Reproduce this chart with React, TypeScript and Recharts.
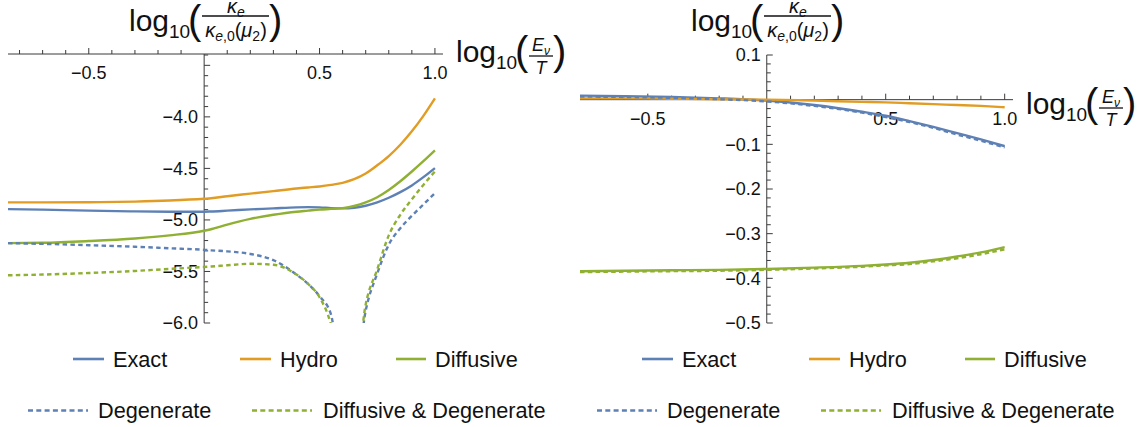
import React from 'react';
import { LineChart, Line, XAxis, YAxis, ReferenceLine } from 'recharts';

const BLUE = '#5E81B5';
const ORANGE = '#E19C24';
const GREEN = '#8FB032';
const AXIS = '#3a3a3a';
const INK = '#111';
const FONT = '"Liberation Sans", Arial, sans-serif';
const DOTS = '4.5 3.3';

// left panel: log10(kappa_e / kappa_e,0(mu_2)) over the wide range
const leftX = [-0.85, -0.7, -0.5, -0.3, -0.15, 0, 0.03, 0.1, 0.2, 0.3, 0.4, 0.45, 0.5, 0.55, 0.6, 0.65, 0.7, 0.75, 0.8, 0.85, 0.9, 0.95, 1.0];
const leftExact = [-4.895, -4.9, -4.91, -4.917, -4.92, -4.92, -4.918, -4.91, -4.898, -4.888, -4.878, -4.876, -4.878, -4.885, -4.888, -4.882, -4.862, -4.83, -4.785, -4.73, -4.665, -4.585, -4.497];
const leftHydro = [-4.83, -4.83, -4.828, -4.822, -4.812, -4.795, -4.79, -4.77, -4.745, -4.72, -4.695, -4.685, -4.675, -4.66, -4.64, -4.605, -4.55, -4.47, -4.38, -4.27, -4.14, -3.99, -3.82];
const leftDiffusive = [-5.225, -5.222, -5.205, -5.18, -5.15, -5.105, -5.09, -5.045, -4.99, -4.95, -4.92, -4.91, -4.9, -4.893, -4.885, -4.865, -4.83, -4.78, -4.71, -4.625, -4.53, -4.43, -4.325];
const leftDegenerate = [-5.225, -5.232, -5.245, -5.26, -5.275, -5.29, -5.295, -5.305, -5.33, -5.39, -5.53, -5.62, -5.74, -5.92, -6.6, -6.6, -5.88, -5.52, -5.24, -5.08, -4.96, -4.85, -4.74];
const leftDiffDeg = [-5.537, -5.53, -5.515, -5.495, -5.475, -5.456, -5.452, -5.44, -5.425, -5.435, -5.53, -5.62, -5.75, -6.02, -6.6, -6.6, -5.82, -5.48, -5.15, -4.95, -4.8, -4.66, -4.53];

// right panel: same ratio, narrow range
const rightX = [-0.785, -0.6, -0.4, -0.2, 0, 0.2, 0.4, 0.5, 0.6, 0.7, 0.8, 0.9, 1.0];
const rightExact = [0.009, 0.008, 0.006, 0.003, -0.002, -0.012, -0.027, -0.036, -0.048, -0.061, -0.075, -0.089, -0.104];
const rightHydro = [0.003, 0.003, 0.002, 0.001, 0, -0.002, -0.005, -0.006, -0.008, -0.01, -0.012, -0.014, -0.017];
const rightDiffusive = [-0.384, -0.383, -0.382, -0.381, -0.379, -0.376, -0.372, -0.369, -0.365, -0.359, -0.351, -0.342, -0.33];
const rightDegenerate = [0.007, 0.006, 0.004, 0.001, -0.004, -0.014, -0.029, -0.039, -0.05, -0.063, -0.078, -0.092, -0.107];
const rightDiffDeg = [-0.386, -0.385, -0.384, -0.383, -0.381, -0.378, -0.374, -0.371, -0.368, -0.362, -0.355, -0.346, -0.335];

const leftXLabels = [{ v: -0.5, t: '−0.5' }, { v: 0.5, t: '0.5' }, { v: 1.0, t: '1.0' }];
const leftYLabels = [{ v: -6.0, t: '−6.0' }, { v: -5.5, t: '−5.5' }, { v: -5.0, t: '−5.0' }, { v: -4.5, t: '−4.5' }, { v: -4.0, t: '−4.0' }];
const rightXLabels = [{ v: -0.5, t: '−0.5' }, { v: 0.5, t: '0.5' }, { v: 1.0, t: '1.0' }];
const rightYLabels = [{ v: 0.1, t: '0.1' }, { v: -0.1, t: '−0.1' }, { v: -0.2, t: '−0.2' }, { v: -0.3, t: '−0.3' }, { v: -0.4, t: '−0.4' }, { v: -0.5, t: '−0.5' }];

const SERIES = [
  { key: 'exact', name: 'Exact', color: BLUE, dotted: false },
  { key: 'hydro', name: 'Hydro', color: ORANGE, dotted: false },
  { key: 'diffusive', name: 'Diffusive', color: GREEN, dotted: false },
  { key: 'degenerate', name: 'Degenerate', color: BLUE, dotted: true },
  { key: 'diffdeg', name: 'Diffusive & Degenerate', color: GREEN, dotted: true },
];

const range = (a: number, b: number, step: number) => {
  const out: number[] = [];
  const n = Math.round((b - a) / step);
  for (let i = 0; i <= n; i++) out.push(Math.round((a + i * step) * 1000) / 1000);
  return out;
};
const onStep = (v: number, step: number) => Math.abs(v / step - Math.round(v / step)) < 1e-6;

const toRows = (xs: number[], cols: Record<string, number[]>) =>
  xs.map((x, i) => {
    const row: Record<string, number> = { x };
    Object.keys(cols).forEach((k) => (row[k] = cols[k][i]));
    return row;
  });

const TICK_FONT = 18;

const xTickShape = (len: number, label?: string) => (p: any) => (
  <g>
    <line x1={p.x1} y1={p.y1} x2={p.x1} y2={p.y1 - len} stroke={AXIS} strokeWidth={1} />
    {label ? (
      <text x={p.x1} y={p.y1 + 25} textAnchor="middle" fontSize={TICK_FONT} fill={INK} fontFamily={FONT}>
        {label}
      </text>
    ) : null}
  </g>
);

const yTickShape = (len: number, label?: string) => (p: any) => (
  <g>
    <line x1={p.x1} y1={p.y1} x2={p.x1 + len} y2={p.y1} stroke={AXIS} strokeWidth={1} />
    {label ? (
      <text x={p.x1 - 6} y={p.y1 + 6.4} textAnchor="end" fontSize={TICK_FONT} fill={INK} fontFamily={FONT}>
        {label}
      </text>
    ) : null}
  </g>
);

type PanelProps = {
  left: number;
  width: number;
  margin: { top: number; right: number; bottom: number; left: number };
  rows: Record<string, number>[];
  xDomain: [number, number];
  yDomain: [number, number];
  xAxisAt: number;
  xTicks: number[];
  yTicks: number[];
  yMajor: number;
  xLabels: { v: number; t: string }[];
  yLabels: { v: number; t: string }[];
};

function Panel({ left, width, margin, rows, xDomain, yDomain, xAxisAt, xTicks, yTicks, yMajor, xLabels, yLabels }: PanelProps) {
  return (
    <div style={{ position: 'absolute', left, top: 0 }}>
      <LineChart width={width} height={340} data={rows} margin={margin}>
        <XAxis type="number" dataKey="x" domain={xDomain} allowDataOverflow hide />
        <YAxis type="number" domain={yDomain} allowDataOverflow hide />
        <ReferenceLine y={xAxisAt} stroke={AXIS} strokeWidth={1} ifOverflow="visible" />
        <ReferenceLine x={0} stroke={AXIS} strokeWidth={1} ifOverflow="visible" />
        {xTicks
          .filter((t) => t !== 0)
          .map((t) => {
            const lab = xLabels.find((l) => Math.abs(l.v - t) < 1e-6);
            return (
              <ReferenceLine
                key={'xt' + t}
                segment={[{ x: t, y: xAxisAt }, { x: t, y: xAxisAt }]}
                ifOverflow="visible"
                shape={xTickShape(onStep(t, 0.5) ? 6 : 4, lab?.t)}
              />
            );
          })}
        {yTicks.map((t) => {
          const lab = yLabels.find((l) => Math.abs(l.v - t) < 1e-6);
          return (
            <ReferenceLine
              key={'yt' + t}
              segment={[{ x: 0, y: t }, { x: 0, y: t }]}
              ifOverflow="visible"
              shape={yTickShape(onStep(t, yMajor) ? 6 : 4, lab?.t)}
            />
          );
        })}
        {SERIES.map((s) => (
          <Line
            key={s.key}
            dataKey={s.key}
            type="monotone"
            stroke={s.color}
            strokeWidth={2.4}
            strokeDasharray={s.dotted ? DOTS : undefined}
            dot={false}
            activeDot={false}
            isAnimationActive={false}
          />
        ))}
      </LineChart>
    </div>
  );
}

// log10( kappa_e / kappa_e,0(mu_2) )
function KappaTitle({ x, y }: { x: number; y: number }) {
  return (
    <g fontFamily={FONT} fill={INK}>
      <text x={x} y={y} fontSize={30}>
        log<tspan fontSize={19} dy={7}>10</tspan>
      </text>
      <text x={x + 59} y={y + 3} fontSize={40}>(</text>
      <text x={x + 107} y={y - 18} fontSize={20} textAnchor="middle">
        <tspan fontStyle="italic">κ</tspan>
        <tspan fontSize={14} fontStyle="italic" dy={4}>e</tspan>
      </text>
      <line x1={x + 73} x2={x + 140} y1={y - 15} y2={y - 15} stroke={INK} strokeWidth={1.3} />
      <text x={x + 107} y={y + 6} fontSize={20} textAnchor="middle">
        <tspan fontStyle="italic">κ</tspan>
        <tspan fontSize={14} dy={4}>
          <tspan fontStyle="italic">e</tspan>,0
        </tspan>
        <tspan dy={-4}>(</tspan>
        <tspan fontStyle="italic">μ</tspan>
        <tspan fontSize={14} dy={4}>2</tspan>
        <tspan dy={-4}>)</tspan>
      </text>
      <text x={x + 140} y={y + 3} fontSize={40}>)</text>
    </g>
  );
}

// log10( E_nu / T )
function EnergyTitle({ x, y }: { x: number; y: number }) {
  return (
    <g fontFamily={FONT} fill={INK}>
      <text x={x} y={y} fontSize={30}>
        log<tspan fontSize={19} dy={7}>10</tspan>
      </text>
      <text x={x + 59} y={y + 3} fontSize={40}>(</text>
      <text x={x + 85} y={y - 11} fontSize={18} textAnchor="middle" fontStyle="italic">
        E<tspan fontSize={12} dy={4}>ν</tspan>
      </text>
      <line x1={x + 73} x2={x + 97} y1={y - 6} y2={y - 6} stroke={INK} strokeWidth={1.3} />
      <text x={x + 85} y={y + 12} fontSize={18} textAnchor="middle" fontStyle="italic">T</text>
      <text x={x + 97} y={y + 3} fontSize={40}>)</text>
    </g>
  );
}

function Legend({ dx }: { dx: number }) {
  const row1 = [
    { s: SERIES[0], x1: 73, x2: 104, tx: 113 },
    { s: SERIES[1], x1: 240, x2: 271, tx: 280 },
    { s: SERIES[2], x1: 396, x2: 426, tx: 435 },
  ];
  const row2 = [
    { s: SERIES[3], x1: 28, x2: 88, tx: 98 },
    { s: SERIES[4], x1: 252, x2: 312, tx: 323 },
  ];
  const item = (it: { s: (typeof SERIES)[number]; x1: number; x2: number; tx: number }, y: number) => (
    <g key={it.s.key}>
      <line
        x1={dx + it.x1}
        x2={dx + it.x2}
        y1={y}
        y2={y}
        stroke={it.s.color}
        strokeWidth={2.6}
        strokeDasharray={it.s.dotted ? '5 3.3' : undefined}
      />
      <text x={dx + it.tx} y={y + 7.7} fontSize={21.7} fontFamily={FONT} fill={INK}>
        {it.s.name}
      </text>
    </g>
  );
  return (
    <g>
      {row1.map((it) => item(it, 359))}
      {row2.map((it) => item(it, 410.5))}
    </g>
  );
}

export default function App() {
  const leftRows = toRows(leftX, {
    exact: leftExact,
    hydro: leftHydro,
    diffusive: leftDiffusive,
    degenerate: leftDegenerate,
    diffdeg: leftDiffDeg,
  });
  const rightRows = toRows(rightX, {
    exact: rightExact,
    hydro: rightHydro,
    diffusive: rightDiffusive,
    degenerate: rightDegenerate,
    diffdeg: rightDiffDeg,
  });

  return (
    <div style={{ position: 'absolute', left: 0, top: 0, width: 1143, height: 427, background: '#fff', overflow: 'hidden' }}>
      <Panel
        left={0}
        width={570}
        margin={{ top: 54, right: 127, bottom: 17, left: 8 }}
        rows={leftRows}
        xDomain={[-0.85, 1.035]}
        yDomain={[-6, -3.39]}
        xAxisAt={-3.39}
        xTicks={range(-0.8, 1.0, 0.1)}
        yTicks={range(-6.0, -3.4, 0.1)}
        yMajor={0.5}
        xLabels={leftXLabels}
        yLabels={leftYLabels}
      />
      <Panel
        left={570}
        width={573}
        margin={{ top: 55, right: 130, bottom: 17, left: 10 }}
        rows={rightRows}
        xDomain={[-0.785, 1.035]}
        yDomain={[-0.5, 0.1]}
        xAxisAt={0}
        xTicks={range(-0.7, 1.0, 0.1)}
        yTicks={range(-0.5, 0.1, 0.02)}
        yMajor={0.1}
        xLabels={rightXLabels}
        yLabels={rightYLabels}
      />
      <svg width={1143} height={427} style={{ position: 'absolute', left: 0, top: 0, pointerEvents: 'none' }}>
        <KappaTitle x={129} y={31} />
        <KappaTitle x={691} y={31} />
        <EnergyTitle x={456} y={62} />
        <EnergyTitle x={1026} y={114} />
        <Legend dx={0} />
        <Legend dx={569} />
      </svg>
    </div>
  );
}
